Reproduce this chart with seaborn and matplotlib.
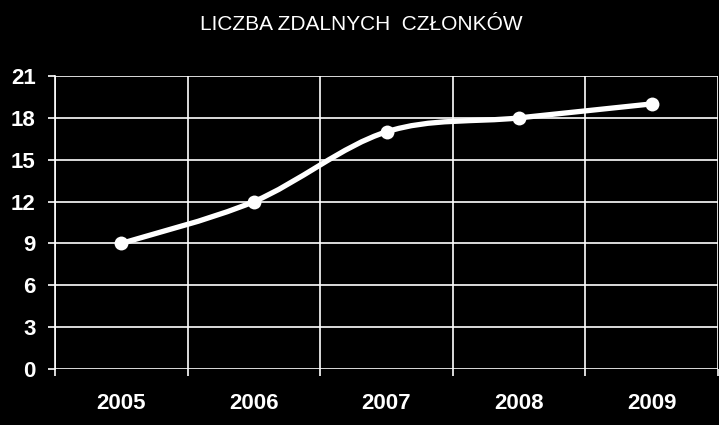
import matplotlib
matplotlib.use("Agg")
import matplotlib.pyplot as plt
import seaborn as sns
import pandas as pd
from matplotlib.path import Path
from matplotlib.patches import PathPatch
from matplotlib.ticker import FixedLocator

# Data
years = ["2005", "2006", "2007", "2008", "2009"]
members = [9, 12, 17, 18, 19]
y_ticks = [0, 3, 6, 9, 12, 15, 18, 21]
title = "LICZBA ZDALNYCH  CZŁONKÓW"

df = pd.DataFrame({"pos": range(len(years)), "members": members})

sns.set_style("dark", {"axes.facecolor": "black", "figure.facecolor": "black"})
plt.rcParams["font.family"] = ["Liberation Sans", "DejaVu Sans"]

fig = plt.figure(figsize=(7.19, 4.25), dpi=100)
ax = fig.add_axes([55 / 719, 56 / 425, 663 / 719, 293 / 425])
ax.set_facecolor("black")

# smoothed line (Excel style Catmull-Rom bezier through the data points)
pts = list(zip(df["pos"], df["members"]))
verts = [pts[0]]
codes = [Path.MOVETO]
for i in range(len(pts) - 1):
    p0 = pts[i - 1] if i > 0 else pts[i]
    p1, p2 = pts[i], pts[i + 1]
    p3 = pts[i + 2] if i + 2 < len(pts) else pts[i + 1]
    c1 = (p1[0] + (p2[0] - p0[0]) / 6, p1[1] + (p2[1] - p0[1]) / 6)
    c2 = (p2[0] - (p3[0] - p1[0]) / 6, p2[1] - (p3[1] - p1[1]) / 6)
    verts += [c1, c2, p2]
    codes += [Path.CURVE4] * 3
ax.add_patch(PathPatch(Path(verts, codes), facecolor="none", edgecolor="white",
                       lw=3.8, capstyle="round", joinstyle="round", zorder=3))

sns.scatterplot(data=df, x="pos", y="members", ax=ax, color="white",
                s=100, edgecolor="white", linewidth=0, zorder=4, legend=False)

ax.set_xlim(-0.5, len(years) - 0.5)
ax.set_ylim(0, 21)
ax.set_yticks(y_ticks)
ax.set_xticks(range(len(years)))
ax.set_xticklabels(years)
ax.xaxis.set_minor_locator(FixedLocator([i - 0.5 for i in range(len(years) + 1)]))
ax.set_xlabel("")
ax.set_ylabel("")

ax.grid(False)
ax.grid(True, which="minor", axis="x", color="white", lw=1.2)
ax.grid(True, which="major", axis="y", color="white", lw=1.2)
ax.set_axisbelow(True)

for s in ax.spines.values():
    s.set_visible(False)
ax.spines["left"].set_visible(True)
ax.spines["left"].set_color("white")
ax.spines["left"].set_linewidth(1.2)

ax.tick_params(axis="y", which="major", left=True, length=5, width=1.2, color="white",
               labelcolor="white", labelsize=16, pad=9)
ax.tick_params(axis="x", which="major", bottom=False, length=0, labelcolor="white",
               labelsize=16, pad=17)
ax.tick_params(axis="x", which="minor", bottom=True, length=5, width=1.2, color="white")
for lab in ax.get_xticklabels() + ax.get_yticklabels():
    lab.set_fontweight("bold")

fig.text(0.502, 1 - 25 / 425, title, color="white", fontsize=15,
         ha="center", va="center")

fig.savefig("out.png", dpi=100, facecolor="black")
